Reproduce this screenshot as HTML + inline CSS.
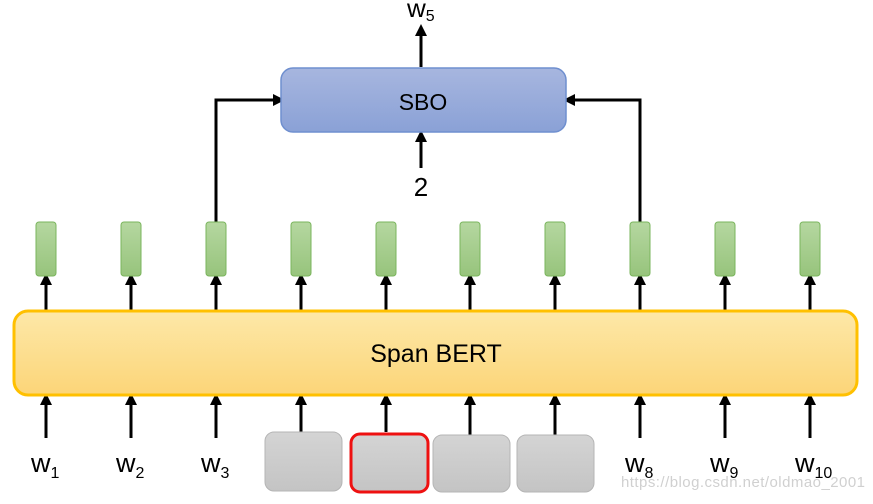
<!DOCTYPE html>
<html><head><meta charset="utf-8"><style>
body{margin:0;background:#fff;width:873px;height:499px;overflow:hidden}
</style></head><body>
<svg width="873" height="499" viewBox="0 0 873 499" xmlns="http://www.w3.org/2000/svg" font-family="'Liberation Sans', sans-serif">
<defs>
<linearGradient id="gb" x1="0" y1="0" x2="0" y2="1"><stop offset="0" stop-color="#a7b6df"/><stop offset="1" stop-color="#8aa1d6"/></linearGradient>
<linearGradient id="gy" x1="0" y1="0" x2="0" y2="1"><stop offset="0" stop-color="#fde8a8"/><stop offset="1" stop-color="#fcd578"/></linearGradient>
<linearGradient id="gg" x1="0" y1="0" x2="0" y2="1"><stop offset="0" stop-color="#b5d7a0"/><stop offset="1" stop-color="#97c47c"/></linearGradient>
<linearGradient id="gr" x1="0" y1="0" x2="0" y2="1"><stop offset="0" stop-color="#d4d4d4"/><stop offset="1" stop-color="#c4c4c4"/></linearGradient>
<marker id="a" markerWidth="4" markerHeight="4" refX="2" refY="2" orient="auto" markerUnits="strokeWidth"><path d="M0,0 L4,2 L0,4 z" fill="#000"/></marker>
</defs>
<g stroke="#000" stroke-width="3" fill="none" marker-end="url(#a)">
<line x1="421" y1="67" x2="421" y2="30"/>
<line x1="421" y1="168" x2="421" y2="136"/>
<polyline points="216,222 216,100 279,100"/>
<polyline points="640,222 640,100 569,100"/>
<line x1="46" y1="310" x2="46" y2="279"/><line x1="131" y1="310" x2="131" y2="279"/><line x1="216" y1="310" x2="216" y2="279"/><line x1="301" y1="310" x2="301" y2="279"/><line x1="386" y1="310" x2="386" y2="279"/><line x1="470" y1="310" x2="470" y2="279"/><line x1="555" y1="310" x2="555" y2="279"/><line x1="640" y1="310" x2="640" y2="279"/><line x1="725" y1="310" x2="725" y2="279"/><line x1="810" y1="310" x2="810" y2="279"/>
<line x1="46" y1="438" x2="46" y2="399"/><line x1="131" y1="438" x2="131" y2="399"/><line x1="216" y1="438" x2="216" y2="399"/><line x1="301" y1="432" x2="301" y2="399"/><line x1="386" y1="432" x2="386" y2="399"/><line x1="470" y1="435" x2="470" y2="399"/><line x1="555" y1="435" x2="555" y2="399"/><line x1="640" y1="438" x2="640" y2="399"/><line x1="725" y1="438" x2="725" y2="399"/><line x1="810" y1="438" x2="810" y2="399"/>
</g>
<rect x="281" y="68" width="285" height="64" rx="12" fill="url(#gb)" stroke="#6f8fcf" stroke-width="1.5"/>
<text x="423" y="110" font-size="23" text-anchor="middle">SBO</text>
<text x="421" y="196" font-size="26" text-anchor="middle">2</text>
<text x="407" y="17" font-size="26">w<tspan font-size="16" dy="4">5</tspan></text>
<g fill="url(#gg)" stroke="#7ab55c" stroke-width="1">
<rect x="36" y="222" width="20" height="54" rx="3"/><rect x="121" y="222" width="20" height="54" rx="3"/><rect x="206" y="222" width="20" height="54" rx="3"/><rect x="291" y="222" width="20" height="54" rx="3"/><rect x="376" y="222" width="20" height="54" rx="3"/><rect x="460" y="222" width="20" height="54" rx="3"/><rect x="545" y="222" width="20" height="54" rx="3"/><rect x="630" y="222" width="20" height="54" rx="3"/><rect x="715" y="222" width="20" height="54" rx="3"/><rect x="800" y="222" width="20" height="54" rx="3"/>
</g>
<rect x="14" y="311" width="843" height="84" rx="14" fill="url(#gy)" stroke="#ffc000" stroke-width="3"/>
<text x="436" y="362" font-size="25" text-anchor="middle">Span BERT</text>
<g fill="url(#gr)" stroke="#b5b5b5" stroke-width="1">
<rect x="265" y="432" width="77" height="59" rx="9"/><rect x="433" y="435" width="77" height="57" rx="9"/><rect x="517" y="435" width="77" height="57" rx="9"/>
</g>
<rect x="351" y="434" width="77" height="58" rx="9" fill="url(#gr)" stroke="#ee1111" stroke-width="3"/>
<g font-size="27">
<text x="31" y="472">w<tspan font-size="16" dy="6">1</tspan></text>
<text x="116" y="472">w<tspan font-size="16" dy="6">2</tspan></text>
<text x="201" y="472">w<tspan font-size="16" dy="6">3</tspan></text>
<text x="625" y="472">w<tspan font-size="16" dy="6">8</tspan></text>
<text x="710" y="472">w<tspan font-size="16" dy="6">9</tspan></text>
<text x="795" y="472">w<tspan font-size="16" dy="6">10</tspan></text>
</g>
<text x="621" y="487" font-size="15" fill="#d0d0d0" textLength="244">https://blog.csdn.net/oldmao_2001</text>
</svg>
</body></html>
